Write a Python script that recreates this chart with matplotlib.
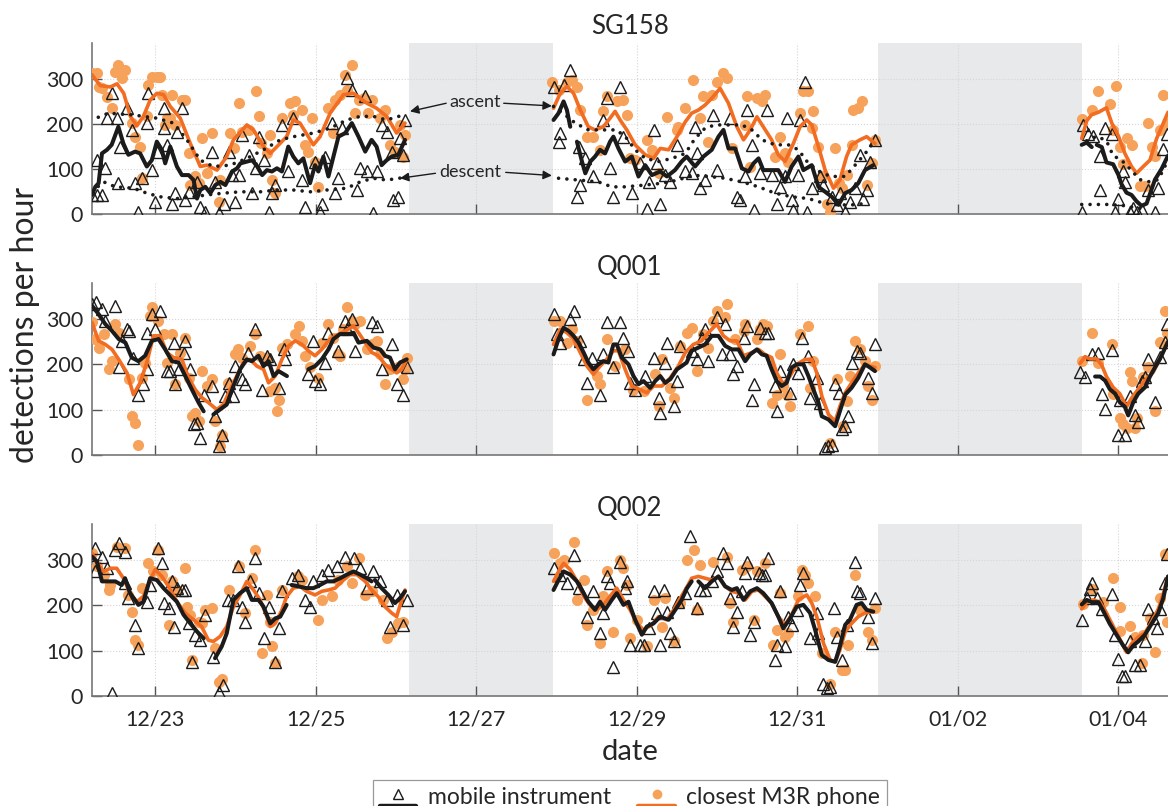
import numpy as np
import matplotlib
matplotlib.use('Agg')
import matplotlib.pyplot as plt
import matplotlib.dates as mdates
from matplotlib.lines import Line2D
from matplotlib.legend_handler import HandlerBase
from datetime import datetime

plt.rcParams['font.family'] = ['Lato', 'DejaVu Sans']

# time is given in hours after 12/22 00:00
START = datetime(2019, 12, 22)
panel_titles = ['SG158', 'Q001', 'Q002']
tick_days = [1, 3, 5, 7, 9, 11, 13]
gaps_h = [(100.0, 142.9), (240.0, 301.0)]
xlim_h = (4.97, 326.8)

# ---------------- SG158 ----------------
sg158_mobile_pts = [
    (5.1,43),(6.6,43),(8.1,43),(6.6,120),(9.1,102),(9.6,213),(11.1,268),(12.5,213),(13.5,150),(13,69),
    (15.5,235),(17,187),(18,69),(19,6),(20,80),(21.5,202),(22,268),(23,98),(24,28),(24.5,139),(26.5,235),
    (26.5,191),(27.5,154),(29,24),(30,48),(30.5,183),(32,235),(33,32),(34,50),(36.5,72),(37.5,17),(39,6),
    (41,139),(42,72),(43,2),(44.5,24),(46,139),(47,87),(48,28),(49,87),(50,176),(52,132),(53,47),(54,102),
    (55,172),(56.4,120),(57.9,6),(58.9,47),(59.9,65),(61.9,198),(63.8,95),(65.3,213),(67.8,76),(68.8,17),
    (71.8,117),(73.3,6),(73.8,24),(74.8,128),(76.8,202),(77.8,47),(78.8,80),(79.8,191),(81.3,301),(82.8,276),
    (84.3,54),(85.3,102),(86.8,261),(87.3,95),(89.2,2),(90.2,95),(91.7,198),(93.2,183),(94.7,139),(95.2,32),
    (96.7,39),(97.2,168),(98.2,132),(98.7,209),
    (143.1,283),(145.1,180),(144.6,161),(146.1,287),(148.1,320),(150.6,150),(151.1,65),(150.1,39),(152.6,124),
    (155,84),(158,209),(159,257),(160,102),(161,39),(163,283),(164,172),(166.5,47),(169,113),(171.5,72),
    (171,13),(173,187),(174,113),(175,24),(176.5,87),(178,72),(180,154),(182.5,95),(184.4,91),(185.4,194),
    (185.9,135),(186.9,58),(188.4,76),(190.9,220),(191.9,98),(195.9,213),(197.9,39),(198.9,32),(200.4,84),
    (200.9,231),(202.4,154),(202.9,10),(204.9,91),(206.8,231),(208.3,87),(209.8,24),(210.8,61),(212.3,84),
    (212.8,213),(214.3,32),(214.8,10),(216.3,87),(216.8,209),(218.3,294),(218.8,6),(220.3,58),(222.8,84),
    (223.8,65),(226.3,39),(227.7,21),(228.7,47),(230.3,6),(231.7,28),(233.2,58),(234.7,132),(235.7,35),
    (236.7,54),(237.7,117),(239.2,165),
    (301,5),(301.5,197),(303,178),(304.5,173),(306.5,130),(308,192),(310,178),(306.5,53),(311,5),(312,34),
    (313.4,96),(313.9,72),(315.4,5),(316.4,14),(317.4,5),(318.9,10),(320.9,53),(322.9,5),(323.9,58),
    (325.4,144),(326.4,178)]
sg158_phone_pts = [
    (5.1,314),(6.6,313),(7.1,283),(8.1,279),(9.6,259),(11,235),(12,316),(13,331),(14,302),(15,320),(17,202),
    (18,172),(19.5,150),(20,80),(21.5,217),(22,287),(23,305),(24.5,305),(25.5,305),(26,265),(27,198),(27.5,213),
    (28.5,213),(29,265),(30,198),(32,253),(33,253),(34,135),(34.5,65),(36,84),(37,69),(38,168),(39.5,91),
    (41,180),(43,28),(43.5,76),(46.5,180),(47.5,146),(49,246),(50,183),(52,187),(54,272),(55,217),(55.5,157),
    (57.4,135),(58.4,176),(58.9,76),(59.9,47),(61.9,213),(64.4,246),(65.3,220),(65.8,250),(67.8,231),(68.8,154),
    (69.8,139),(70.8,213),(71.8,117),(72.8,61),(75.8,235),(77.3,180),(77.8,253),(79.3,265),(80.8,309),(81.3,276),
    (82.8,331),(83.8,224),(84.8,253),(86.3,257),(87.7,224),(88.7,253),(91.2,213),(92.7,231),(94.2,154),
    (95.7,139),(97.2,198),(98.7,176),(98.2,128),
    (142.6,294),(144.6,276),(147.1,294),(148.6,298),(150.1,283),(151.1,231),(153.1,172),(155,172),(157,143),
    (158,228),(159,261),(162,250),(164,253),(165,220),(166,124),(167.5,120),(171,165),(172.5,143),(174.5,91),
    (177,216),(180,187),(180.4,194),(182.5,235),(184.9,298),(186.9,213),(187.9,261),(189.4,161),(190.4,265),
    (191.9,294),(193.9,313),(194.9,302),(196.4,146),(200.4,198),(200.9,261),(201.9,106),(203.9,257),(205.4,250),
    (206.3,265),(209.3,128),(210.8,172),(212.3,135),(213.3,117),(216.8,224),(217.8,272),(219.3,272),(220.8,228),
    (220.3,191),(222.3,150),(223.3,84),(224.8,24),(225.8,6),(227.3,146),(228.3,69),(229.3,58),(230.8,87),
    (232.2,154),(232.7,231),(234.2,235),(235.2,250),(236.7,65),(238.2,113),(239.2,165),
    (301,212),(304,231),(306,274),(309.4,245),(311.4,284),(310.4,187),(312.4,149),(314.4,168),(315.9,154),
    (313.4,111),(318.4,62),(319.9,62),(320.9,202),(321.9,149),(322.9,130),(324.4,187),(325.4,264),(326.4,202)]
sg158_mobile_line = [
    [(5.1,43),(6.1,61),(7.1,69),(8.1,135),(9.6,143),(11,154),(13,194),(14.5,157),(16,132),(18,139),(19.5,135),
     (21.5,106),(23,120),(24.5,161),(26,143),(27,113),(28.5,150),(30.5,106),(32,87),(34,87),(35.5,76),(36.5,35),
     (37.5,54),(39,61),(40.5,47),(42,65),(43.5,72),(45,65),(47,95),(48.5,102),(49.5,113),(51.5,117),(53,120),
     (54.5,106),(56,87),(57.4,98),(58.9,95),(60.4,102),(61.9,95),(63.8,150),(65.3,128),(66.8,113),(68.3,124),
     (70.3,69),(71.8,109),(72.8,95),(74.3,128),(75.8,84),(77.3,128),(78.8,172),(80.8,180),(82.8,202),(84.8,172),
     (86.8,139),(88.7,165),(90.2,150),(91.7,109),(93.2,120),(94.7,128),(96.7,132),(98.7,165)],
    [(143.1,209),(144.6,224),(146.1,250),(147.1,231),(148.1,194)],
    [(150.1,161),(151.6,117),(152.6,91),(154.1,117),(155.5,128),(157,143),(158.5,135),(160,161),(161,172),
     (162.5,146),(164.5,117),(166.5,128),(168.5,84),(170.5,109),(172.5,87),(175,95),(177,84),(179.4,98),
     (181.4,117),(182.9,128),(185.4,106),(187.9,128),(190.4,143),(192.4,172),(193.9,187),(195.4,146),(197.4,146),
     (199.4,102),(201.4,95),(202.9,113),(204.4,124),(205.8,98),(207.8,98),(210.3,98),(212.3,72),(214.3,106),
     (216.3,128),(217.8,98),(220.3,109),(222.3,61),(224.3,50),(226.3,39),(228.3,21),(230.3,47),(232.2,54),
     (234.2,69),(236.2,98),(238.7,109)],
    [(301,154),(302.5,159),(304,149)],
    [(305.5,154),(307,149),(308.4,115),(310.4,111),(312,87),(312.9,67),(314.4,48),(315.9,43),(317.4,29),
     (318.9,19),(320.4,24),(322.9,77),(324.9,101),(326.8,130)]]
sg158_phone_line = [
    [(5.1,309),(7.6,285),(10.6,282),(12.6,289),(14.6,268),(16.6,217),(18.5,196),(20.5,217),(22.5,253),(24.5,268),
     (26.5,265),(28.5,239),(31.5,213),(34.5,157),(37.5,106),(39.5,109),(42.5,98),(45.4,128),(47.4,165),(51.4,198),
     (53.4,187),(56.4,150),(58.4,135),(60.4,150),(63.3,172),(65.3,209),(67.3,202),(71.3,154),(73.3,172),(76.3,224),
     (80.3,265),(83.3,268),(87.3,246),(90.2,235),(93.2,217),(96.2,180),(98.7,202)],
    [(143.1,235),(145.1,268),(147.1,283),(149.1,268),(151.1,231),(153.5,194),(155.5,187),(158,194),(160,213),
     (161.5,228),(163,209),(165,187),(167.5,154),(170.5,132),(173,124),(175,146),(177.5,143),(180,172),(182.5,205),
     (184.4,224),(186.4,231),(188.4,242),(190.4,257),(192.9,279),(195.4,246),(197.9,194),(199.9,165),(201.9,187),
     (203.9,216),(205.8,194),(208.3,165),(210.3,132),(212.3,117),(214.8,157),(216.8,194),(218.8,209),(220.3,198),
     (222.3,150),(224.3,98),(226.8,58),(228.7,76),(230.7,128),(232.2,154),(234.7,165),(236.7,172),(239.2,157)],
    [(301,168),(302.5,207),(304,221),(306,226),(308.4,236),(310,202),(312,173),(313.9,135),(315.9,106),(317.4,91),
     (319.4,106),(321.4,120),(323.4,168),(325.4,202),(326.8,226)]]
sg158_ascent = [
    [(7,215),(10,224),(17.5,220),(24.5,213),(29.5,202),(33.5,165),(37.5,120),(41.4,106),(46.4,109),(51.4,124),
     (56.4,143),(61.4,165),(65.3,172),(71.3,180),(76.3,191),(81.3,209),(85.3,217),(89.2,217),(93.2,209),(98.2,220)],
    [(143.1,239),(146.6,220),(149.6,202),(153.5,187),(157.5,187),(162,187),(165,168),(167.5,143),(170.5,124),
     (174.5,117),(178.5,124),(182.5,135),(185.4,168),(188.4,191),(191.4,198),(195.4,198),(199.4,198),(202.4,187),
     (205.4,165),(209.3,154),(213.3,154),(216.3,143),(219.3,113),(223.3,91),(226.3,84),(230.3,84),(234.2,117),
     (237.2,143),(239.2,165)],
    [(302.5,163),(305.5,173),(308.4,163),(310.4,130),(312.9,120),(315.4,101),(318.4,77),(321.4,72),(323.9,77),
     (326.8,120)]]
sg158_descent = [
    [(5.1,50),(8.6,72),(12.1,61),(17.5,58),(21.5,47),(25.5,39),(30.5,35),(35.5,39),(39.4,43),(44.4,47),(49.4,50),
     (55.4,50),(60.4,54),(65.3,54),(70.3,50),(75.3,54),(81.3,58),(85.3,72),(89.2,80),(93.2,76),(98.7,82)],
    [(144.6,80),(150.6,76),(156.5,72),(160.5,61),(164.5,61),(170.5,65),(175.5,69),(180.4,76),(184.4,87),
     (189.4,84),(194.4,80),(199.4,72),(204.4,61),(209.3,47),(214.3,39),(219.3,35),(224.3,24),(228.3,21),
     (232.2,21),(236.2,24)],
    [(301,22),(305,22),(309,22),(313,20),(317,15),(320,12)]]

# ---------------- Q001 ----------------
q001_mobile_pts = [
    (5.1,333),(6.3,337),(8.1,322),(9.1,296),(12.1,330),(13.1,193),(14.1,252),(15.6,278),(16.1,274),(17.5,215),
    (19,133),(20.5,156),(21.5,189),(21.5,270),(23,311),(24,278),(25.5,319),(27.5,185),(28.5,185),(29.5,248),
    (30,156),(31,189),(32.5,226),(33,252),(34.5,189),(35.5,67),(36.5,70),(37.5,37),(38.5,133),(41,152),(42,85),
    (44,44),(43,19),(45,130),(46,159),(47.4,130),(47.9,196),(49.9,167),(50.9,156),(51.9,226),(53.9,278),
    (55.9,144),(57.4,219),(58.4,211),(60.9,148),(62.4,233),(62.9,211),(69.8,178),(71.3,252),(71.8,163),
    (73.3,156),(74.8,204),(75.8,270),(78.8,230),(80.8,296),(81.3,278),(82.8,300),(83.8,230),(88.8,293),
    (90.2,285),(91.7,189),(94.7,244),(96.2,156),(98.2,133),(99.2,193),
    (143.1,311),(144.1,267),(145.1,248),(148.1,300),(149.1,319),(151.1,252),(152.1,211),(153.1,159),(154.6,215),
    (157,133),(158,222),(159,293),(161,193),(163,293),(164,259),(165.5,230),(166,159),(167.5,144),(170.5,174),
    (173,215),(174.5,126),(175,93),(176.5,204),(177,248),(179,107),(180,163),(181,241),(184.4,230),(185.9,211),
    (187.4,259),(188.4,278),(189.4,207),(191.9,304),(193.4,222),(194.4,289),(195.9,222),(196.9,178),(197.9,196),
    (199.9,259),(200.9,285),(202.4,122),(202.9,156),(204.9,281),(206.3,270),(207.3,270),(209.3,152),(209.8,96),
    (210.8,185),(213.8,137),(214.8,200),(216.3,181),(217.3,259),(219.3,219),(219.8,126),(221.8,170),(222.8,115),
    (224.3,15),(225.3,19),(226.3,22),(227.3,156),(228.3,137),(229.3,56),(230.3,63),(231.2,85),(232.2,204),
    (233.7,230),(234.7,226),(237.2,170),(238.2,137),(239.2,244),
    (300.5,183),(302,173),(304,222),(306,224),(310,231),(307,135),(308,101),(312.4,120),(312,43),(313.9,43),
    (315.4,130),(316.9,87),(317.9,72),(318.9,164),(319.9,173),(320.9,212),(322.9,116),(324.4,217),(325.9,250),
    (326.4,289)]
q001_phone_pts = [
    (5.1,293),(6.1,256),(7.1,237),(8.6,267),(10.1,189),(11.1,207),(12.1,289),(13.1,270),(16.1,167),(17.1,85),
    (18.1,70),(19,22),(20,170),(21,204),(22.5,307),(23,326),(25,296),(26.5,267),(27.5,204),(29,267),(30,156),
    (31.5,226),(33,259),(34,170),(35,85),(36,93),(37,74),(38,185),(39.5,152),(41,167),(42,74),(43.4,19),(43.9,44),
    (45.9,159),(47.9,222),(48.9,233),(49.9,215),(52.4,241),(53.9,267),(55.4,219),(57.4,215),(58.4,141),(59.9,148),
    (60.4,96),(60.9,122),(61.9,237),(63.4,244),(65.9,267),(66.9,285),(67.9,252),(68.9,219),(70.3,193),(72.8,170),
    (73.8,248),(75.8,289),(77.3,259),(78.8,222),(79.3,219),(80.3,278),(81.3,326),(82.8,296),(83.8,289),(85.3,296),
    (87.3,233),(88.8,244),(90.2,252),(91.2,222),(92.7,156),(94.2,189),(96.7,193),(98.2,167),(99.2,215),(98.7,189),
    (143.1,296),(145.1,296),(147.1,248),(148.6,278),(150.1,252),(153.1,122),(156.1,174),(157,156),(159,256),
    (161.5,196),(164.5,233),(167,144),(170,141),(173.5,178),(174.5,107),(175.5,211),(178,148),(179,126),(181,241),
    (183,270),(184.4,281),(185.9,185),(187.9,267),(189.4,237),(190.9,296),(191.9,319),(194.4,304),(194.9,333),
    (197.4,256),(199.9,274),(200.4,289),(203.9,256),(204.9,278),(205.8,289),(206.8,285),(208.3,115),(209.8,133),
    (210.8,222),(211.8,152),(212.8,133),(213.8,107),(216.8,267),(219.3,285),(219.8,148),(220.8,207),(225.8,26),
    (227.7,167),(229.7,63),(230.7,119),(231.7,174),(233.2,252),(234.7,233),(236.2,207),(237.2,152),(238.2,122),
    (239.2,196),
    (301,207),(304,270),(306,202),(310,246),(310.4,135),(312.4,82),(313.4,67),(314.4,58),(315.4,183),(315.9,164),
    (317.4,82),(316.9,58),(319.4,173),(320.9,193),(322.9,96),(324.4,250),(325.9,318),(326.4,270)]
q001_mobile_line = [
    [(5.1,330),(7.1,311),(9.1,289),(11.1,274),(13.1,256),(15.1,248),(17,215),(19,207),(21,219),(23,252),(25,256),
     (27,233),(29,207),(31,204),(33,174),(35,144),(37,115),(38.5,96)],
    [(41.4,89),(43.4,100),(45.4,111),(47.4,152),(49.4,189),(51.4,211),(52.9,207),(54.9,219),(56.4,196),(57.9,207),
     (59.4,174),(60.9,185),(63.4,174)],
    [(69.8,189),(71.8,196),(73.8,211),(75.8,233),(77.3,256),(79.3,267),(81.8,267),(83.3,270),(84.8,248),(87.3,252),
     (89.3,237),(91.3,233),(92.7,219),(94.2,215),(95.7,189),(97.2,204),(99.2,211)],
    [(143.1,222),(144.6,256),(146.1,281),(147.6,274),(149.1,263),(150.6,248),(152.1,226),(153.5,204),(155,189),
     (156.5,200),(158,207),(159.5,204),(161,244),(162,244),(163.5,215),(165.5,200),(167,174),(168.5,156),(170,163),
     (172,148),(173.5,163),(175,174),(176.5,159),(178,167),(180,189),(181.4,196),(182.9,204),(184.4,230),(186.4,237),
     (188.4,244),(190.4,263),(192.4,263),(194.4,241),(196.4,233),(198.4,233),(200.4,207),(201.9,222),(203.9,233),
     (205.4,222),(206.8,219),(208.3,189),(209.8,163),(211.3,152),(212.8,159),(214.3,193),(215.8,200),(217.8,200),
     (219.3,174),(220.8,144),(222.3,115),(223.3,85),(225.3,78),(227.3,63),(228.7,96),(230.3,133),(232.2,148),
     (234.2,170),(236.2,200),(237.7,193),(239.2,185)],
    [(305,173),(306.5,173),(308,164),(309.4,145),(311,135),(312.4,116),(313.9,106),(314.9,87),(316.4,116),
     (317.9,135),(319.9,149),(321.4,173),(322.9,193),(324.4,212),(325.9,236),(326.8,250)]]
q001_phone_line = [
    [(5.1,293),(7.1,252),(9.1,244),(11.1,233),(13.1,211),(15.6,181),(17.5,133),(19.5,159),(21.5,204),(23.5,263),
     (25.5,263),(27.5,226),(29.5,215),(32,211),(34,170),(36,144),(38,126),(40,115),(42.4,100),(44.4,111),(46.4,144),
     (48.4,174),(50.4,204),(52.4,211),(54.4,196),(56.4,189),(57.9,159),(59.9,174),(61.9,211),(63.9,241),(65.9,252),
     (67.9,244),(69.8,230),(71.8,219),(73.8,233),(75.8,252),(77.8,263),(79.8,270),(81.8,278),(83.3,285),(84.8,270),
     (86.8,248),(88.8,226),(90.7,219),(92.7,200),(94.7,189),(96.2,181),(97.7,189),(99.2,211)],
    [(143.1,244),(145.1,278),(147.1,270),(149.1,256),(151.1,226),(153.1,196),(155,178),(157,196),(159,211),(161,230),
     (162.5,230),(164.5,189),(166.5,152),(169,144),(171,137),(173,152),(175.5,152),(178,170),(180.4,196),(182.5,226),
     (184.9,244),(187.4,252),(189.4,270),(191.9,289),(193.9,263),(195.9,252),(197.9,252),(199.9,219),(202.4,226),
     (204.4,233),(206.3,222),(208.3,215),(209.8,181),(211.8,156),(213.8,174),(215.8,200),(218.3,211),(220.3,211),
     (221.8,181),(223.3,130),(225.3,89),(227.3,74),(228.7,107),(230.3,137),(232.2,159),(234.2,181),(236.2,200),
     (237.7,196),(239.2,193)],
    [(300.5,202),(302,217),(303.5,212),(305.5,212),(307,198),(308.4,173),(310.4,149),(312.4,135),(314.4,106),
     (315.9,125),(317.9,145),(319.9,164),(322.4,183),(324.4,212),(326.8,250)]]

# ---------------- Q002 ----------------
q002_mobile_pts = [
    (4.6,312),(6.1,327),(6.1,275),(8.1,308),(9.6,282),(11.1,5),(12.1,323),(13.1,338),(15,319),(15,249),(16,216),
    (18,157),(19,105),(21.5,208),(22.5,245),(25,327),(26,293),(26.5,205),(28,194),(29,253),(29.5,153),(30.5,238),
    (32,234),(33,234),(34,160),(35,75),(36,135),(37.5,123),(39,179),(41.4,86),(43,9),(44.4,24),(45.9,212),
    (47.4,212),(48.9,286),(49.9,197),(50.9,164),(52.4,253),(53.9,305),(54.9,227),(56.4,127),(57.9,197),(59.9,75),
    (60.9,149),(61.9,231),(64.8,260),(66.8,268),(68.8,212),(70.3,197),(71.3,253),(73.8,268),(75.8,279),(78.3,286),
    (80.8,308),(83.3,305),(85.3,282),(87.3,238),(89.2,275),(91.2,253),(93.2,212),(94.2,153),(96.2,223),(98.2,157),
    (99.2,212),
    (143.1,282),(145.1,268),(147.1,249),(149.1,312),(150.6,238),(153.1,175),(155,231),(157,138),(158,183),(159,264),
    (160,249),(161,64),(163,297),(164.5,238),(165,253),(166,112),(169,112),(170,112),(171.5,149),(173,231),(174,183),
    (175,112),(176,234),(177,186),(178,138),(179,120),(180.4,208),(182.5,227),(184,353),(185.9,194),(186.9,234),
    (188.4,234),(190.4,253),(191.9,275),(193.9,316),(194.9,293),(195.9,216),(196.9,153),(197.9,186),(199.4,231),
    (200.4,271),(200.9,297),(201.9,134),(202.9,164),(204.4,271),(205.4,268),(206.3,268),(207.3,305),(209.3,79),
    (209.8,112),(210.8,231),(212.3,109),(213.3,175),(214.3,157),(215.8,190),(216.8,245),(217.8,271),(219.8,127),
    (221.8,183),(222.3,138),(223.8,27),(224.8,16),(225.8,20),(226.8,194),(227.7,131),(229.3,79),(230.7,157),
    (233.2,297),(233.7,231),(234.7,227),(237.2,175),(238.2,116),(239.2,216),
    (301,168),(302.5,216),(303.5,236),(304,250),(305.5,216),(307,192),(310,226),(311,135),(312,82),(313,43),
    (314,43),(315.4,120),(316.9,67),(318.4,67),(319.9,120),(320.9,192),(322.4,173),(323.4,149),(324.4,192),
    (325.9,250),(326.4,313)]
q002_phone_pts = [
    (5.1,316),(6.6,286),(8.6,268),(10.1,234),(10.6,245),(12.5,330),(15,327),(16,223),(17,186),(18,123),(19,112),
    (20,238),(22,293),(23.5,275),(25,323),(26,268),(28,157),(29,253),(30.5,234),(33,282),(33.5,197),(34.5,179),
    (35,79),(37,164),(38,160),(39,190),(41,194),(42,105),(43,31),(44,38),(46,234),(49,286),(50.9,183),(52.9,260),
    (53.9,323),(55.9,94),(57.4,223),(58.4,164),(58.9,109),(59.9,72),(61.9,234),(66.8,264),(67.8,256),(72.8,168),
    (73.8,212),(76.8,220),(78.8,256),(81.3,286),(82.8,249),(84.8,305),(86.8,223),(88.7,231),(92.2,212),(93.2,127),
    (94.7,142),(96.7,160),(98.2,164),
    (143.1,316),(145.1,293),(146.1,301),(149.1,341),(150.1,212),(152.1,256),(153.1,157),(155,190),(157,116),
    (158,220),(159,275),(161,142),(163,301),(164,282),(165,245),(166,127),(168,168),(171,109),(173,212),(175.5,153),
    (176.5,216),(179,120),(181,205),(183,301),(185,323),(185.9,190),(186.9,290),(190.9,297),(194.9,308),(195.9,205),
    (196.9,164),(199.4,279),(200.9,286),(202.9,168),(203.9,275),(206.3,293),(208.8,112),(209.8,146),(210.8,227),
    (212.3,131),(213.3,138),(216.3,220),(217.3,279),(218.3,268),(219.3,249),(221.3,220),(223.3,94),(225.8,27),
    (227.3,142),(229.3,57),(230.3,57),(231.2,112),(233.2,268),(234.7,190),(237.2,142),(238.2,123),(239.2,194),
    (301.5,202),(304,236),(307.4,207),(310.4,260),(312.4,197),(312.4,144),(315.4,154),(316.9,130),(318.9,72),
    (319.4,135),(321.4,173),(322.9,96),(324.4,216),(325.9,313),(326.4,163)]
q002_mobile_line = [
    [(5.1,308),(6.6,297),(8.1,253),(10.1,253),(12.1,253),(14,245),(15,260),(16.5,227),(19,201),(20.5,208),(22.5,260),
     (24.5,256),(26.5,238),(28.5,223),(30.5,208),(32.5,179),(34.5,160),(36.5,142),(38.5,127)],
    [(41.9,83),(43.9,109),(45.4,138),(47.4,212),(49.4,227),(51.4,238),(52.9,212),(54.9,212),(56.4,197),(58.4,160),
     (59.9,171),(61.4,175),(63.3,201)],
    [(64.8,245),(66.8,242),(69.3,238),(71.3,238),(73.3,245),(75.3,253),(77.3,253),(79.3,260),(81.3,268),(83.3,275),
     (85.3,268),(87.3,260),(88.7,253)],
    [(89.7,256),(91.7,238),(93.7,223),(95.7,205),(97.2,216),(98.7,231)],
    [(143.1,234),(144.6,256),(146.1,275),(148.1,268),(150.1,253),(152.1,227),(153.5,208),(155.5,190),(157,208),
     (158.5,190),(160.5,212),(162,227),(164,201),(165.5,208),(167.5,168),(169.5,135),(171,153),(173,160),(175,175),
     (177.5,168),(179.5,190),(181.4,212),(183,238),(184.4,253)],
    [(186.4,253),(188.4,238),(190.4,253),(192.4,264),(194.4,242),(196.4,234),(197.9,238),(199.9,212),(201.9,231),
     (203.9,238),(205.8,227),(208.3,205),(210.3,175),(211.8,149),(213.8,171),(215.8,197),(217.8,201),(219.8,183),
     (221.3,146),(223.3,90),(225.3,79),(227.3,75),(228.7,109),(230.3,157),(231.7,168),(233.7,201),(235.2,205),
     (236.7,190),(238.7,186)],
    [(301,202),(302.5,212),(304,207),(306,207),(307.4,188),(309.4,159),(311.4,135),(313.4,111),(314.9,96),(316.4,111),
     (317.9,120),(319.9,135),(321.9,159),(323.9,183),(325.4,216),(326.8,264)]]
q002_phone_line = [
    [(5.1,316),(6.6,293),(8.6,275),(10.6,282),(12.5,282),(14.5,260),(16.5,227),(18.5,208),(20.5,220),(22.5,256),
     (24,279),(26,264),(28,242),(30.5,208),(33,183),(35.5,168),(37.9,153),(39.9,123),(41.4,120),(43.4,131),
     (45.4,153),(47.4,197),(49.4,223),(51.4,253),(53.4,234),(55.4,212),(57.4,175),(58.4,153),(59.9,160),(61.9,190),
     (63.3,219),(65.3,238),(67.3,242),(69.3,231),(71.8,223),(73.8,231),(75.8,234),(77.8,238),(79.8,253),(82.3,268),
     (84.3,268),(86.8,253),(88.7,234),(90.7,219),(92.7,197),(94.7,183),(96.2,175),(97.7,212),(98.7,234)],
    [(143.1,253),(144.6,275),(146.1,293),(148.1,279),(150.1,253),(152.1,220),(154,201),(156,190),(158,201),(160,220),
     (162,238),(164,212),(166,190),(168,160),(170,146),(172.5,157),(174.5,175),(177,168),(179,190),(181,216),
     (182.5,234),(184.4,260),(186.4,264),(188.4,260),(190.4,256),(192.4,264),(194.4,242),(196.4,231),(198.4,227),
     (200.4,212),(202.4,231),(204.4,234),(206.3,220),(208.3,205),(210.3,175),(212.3,157),(214.3,179),(216.3,212),
     (218.8,223),(220.3,205),(221.8,175),(223.8,116),(225.8,79),(227.3,75),(228.7,101),(230.3,142),(232.2,160),
     (234.2,175),(236.2,183),(238.7,186)],
    [(301,192),(302.5,207),(304.5,212),(306.5,207),(308.4,183),(310.4,154),(312.4,125),(314.4,96),(315.9,115),
     (317.9,130),(319.9,139),(321.9,163),(323.9,192),(325.4,226),(326.8,264)]]

# annotation anchor points (hours, value)
ascent_text = (119.7, 249)
descent_text = (118.2, 94)
ascent_arrows = [((111.0, 246), (100.2, 228)), ((128.2, 246), (142.6, 240))]
descent_arrows = [((107.8, 91), (97.2, 80)), ((128.8, 93), (142.6, 86))]

# ---------------- styling ----------------
BLACK = '#1b1b1b'
ORANGE_LINE = '#F26C21'
ORANGE_DOT = '#F7A25B'
GRAY_SPAN = '#E8E9EB'
TXT = '#262626'

base = mdates.date2num(START)
def hx(h):
    return base + np.asarray(h, float) / 24.0

fig = plt.figure(figsize=(11.68, 8.06), dpi=100)
W, H = 1168.0, 806.0
left = 91.5 / W
width = 1.0 - left
tops = [42.7, 283.0, 524.0]
ph = 171.7

panels = [
    (sg158_mobile_pts, sg158_phone_pts, sg158_mobile_line, sg158_phone_line),
    (q001_mobile_pts, q001_phone_pts, q001_mobile_line, q001_phone_line),
    (q002_mobile_pts, q002_phone_pts, q002_mobile_line, q002_phone_line),
]

axes = []
for i, (mp, pp, ml, pl) in enumerate(panels):
    ax = fig.add_axes([left, 1 - (tops[i] + ph) / H, width, ph / H])
    axes.append(ax)
    for g0, g1 in gaps_h:
        ax.axvspan(hx(g0), hx(g1), color=GRAY_SPAN, lw=0, zorder=0.1)
    ax.set_axisbelow(True)
    ax.grid(True, ls=':', color='#d6d6d6', lw=0.8)
    h, v = zip(*pp)
    ax.plot(hx(h), v, ls='none', marker='o', ms=8.0, mfc=ORANGE_DOT, mec='none', zorder=3)
    h, v = zip(*mp)
    ax.plot(hx(h), v, ls='none', marker='^', ms=9.0, mfc='none', mec=BLACK, mew=1.0, zorder=4)
    for seg in pl:
        h, v = zip(*seg)
        ax.plot(hx(h), v, color=ORANGE_LINE, lw=2.6, zorder=5, solid_capstyle='round', solid_joinstyle='round')
    for seg in ml:
        h, v = zip(*seg)
        ax.plot(hx(h), v, color=BLACK, lw=2.9, zorder=6, solid_capstyle='round', solid_joinstyle='round')
    if i == 0:
        for seg in sg158_ascent + sg158_descent:
            h, v = zip(*seg)
            ax.plot(hx(h), v, color=BLACK, lw=2.6, ls=(0, (0.01, 2.3)), dash_capstyle='round', zorder=6)
        ax.text(hx(ascent_text[0]), ascent_text[1], 'ascent', fontsize=13, ha='center', va='center', color=TXT, zorder=8)
        ax.text(hx(descent_text[0]), descent_text[1], 'descent', fontsize=13, ha='center', va='center', color=TXT, zorder=8)
        for (t, hd) in ascent_arrows + descent_arrows:
            ax.annotate('', xy=(hx(hd[0]), hd[1]), xytext=(hx(t[0]), t[1]),
                        arrowprops=dict(arrowstyle='-|>', color=BLACK, lw=1.0, mutation_scale=13,
                                        shrinkA=0, shrinkB=0), zorder=8)
    ax.set_xlim(hx(xlim_h[0]), hx(xlim_h[1]))
    ax.set_ylim(0, 380)
    ax.set_yticks([0, 100, 200, 300])
    ax.set_xticks([base + d for d in tick_days])
    ax.xaxis.set_major_formatter(mdates.DateFormatter('%m/%d'))
    if i < 2:
        ax.tick_params(axis='x', labelbottom=False)
    ax.tick_params(direction='in', length=7, width=1.0, color='#555555', labelsize=15.5, labelcolor=TXT, pad=6)
    ax.tick_params(axis='x', pad=10)
    for s in ['top', 'right']:
        ax.spines[s].set_visible(False)
    for s in ['left', 'bottom']:
        ax.spines[s].set_color('#777777')
        ax.spines[s].set_linewidth(1.2)
    ax.set_title(panel_titles[i], fontsize=18.5, color=TXT, pad=6)

fig.text(25 / W, 1 - 325 / H, 'detections per hour', rotation=90, fontsize=23, color=TXT, ha='center', va='center')
fig.text(630 / W, 1 - 752 / H, 'date', fontsize=21, color=TXT, ha='center', va='center')

class StackedHandler(HandlerBase):
    def create_artists(self, legend, orig_handle, xdescent, ydescent, width, height, fontsize, trans):
        mk, ln = orig_handle
        x0, x1 = -xdescent, width - xdescent
        yb = -ydescent - 0.1 * height
        line = Line2D([x0, x1], [yb, yb], color=ln.get_color(), lw=ln.get_linewidth(), solid_capstyle='round')
        mark = Line2D([(x0 + x1) / 2], [-ydescent + 0.62 * height], ls='none', marker=mk.get_marker(),
                      ms=mk.get_markersize(), mfc=mk.get_markerfacecolor(), mec=mk.get_markeredgecolor(),
                      mew=mk.get_markeredgewidth())
        line.set_transform(trans)
        mark.set_transform(trans)
        return [line, mark]

h_mob = (Line2D([], [], ls='none', marker='^', ms=7.5, mfc='none', mec=BLACK, mew=1.0),
         Line2D([], [], color=BLACK, lw=3.2))
h_pho = (Line2D([], [], ls='none', marker='o', ms=7, mfc=ORANGE_DOT, mec='none'),
         Line2D([], [], color=ORANGE_LINE, lw=3.2))
leg = fig.legend([h_mob, h_pho], ['mobile instrument', 'closest M3R phone'],
                 handler_map={tuple: StackedHandler()}, loc='upper center',
                 bbox_to_anchor=(630 / W, 1 - 769 / H), bbox_transform=fig.transFigure,
                 ncol=2, fontsize=16.5, frameon=True, fancybox=False, edgecolor='#808080',
                 handlelength=1.6, handletextpad=0.5, columnspacing=1.2, borderpad=0.3)
leg.get_frame().set_linewidth(0.9)
for t in leg.get_texts():
    t.set_color(TXT)

fig.savefig('out.png', dpi=100)
